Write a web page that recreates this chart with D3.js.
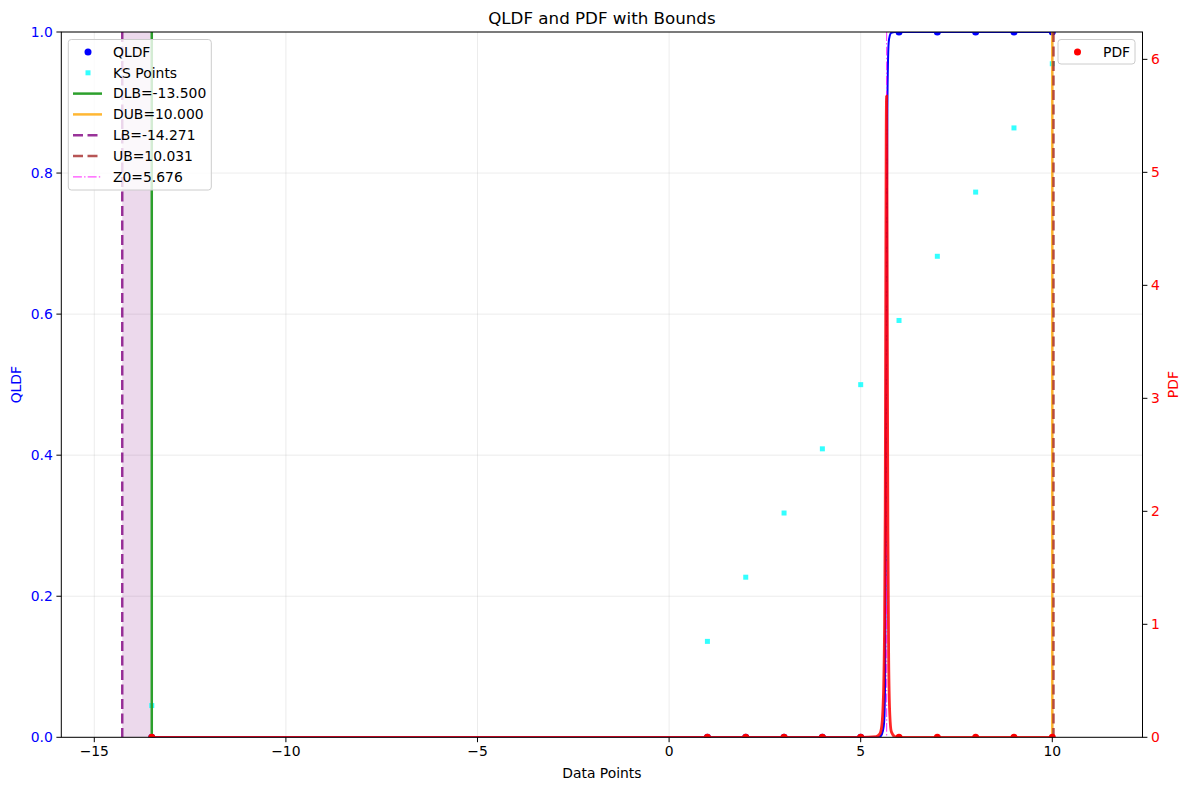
<!DOCTYPE html>
<html>
<head>
<meta charset="utf-8">
<script src="https://cdn.jsdelivr.net/npm/d3@7"></script>
<style>
  html, body { margin: 0; padding: 0; background: #fff; }
  svg { display: block; font-family: "DejaVu Sans", sans-serif; }
</style>
</head>
<body>
<div id="chart"></div>
<script>
// ---- data ----
const dataPoints = [-13.5, 1, 2, 3, 4, 5, 6, 7, 8, 9, 10];
const qldfPoints = [0, 0, 0, 0, 0, 0, 1, 1, 1, 1, 1];
const ksPoints = [0.045, 0.136, 0.227, 0.318, 0.409, 0.5, 0.591, 0.682, 0.773, 0.864, 0.955];
const pdfPoints = [0, 0, 0, 0, 0, 0, 0, 0, 0, 0, 0];

const curveX    = [-13.5, 5.0, 5.4, 5.5, 5.55, 5.6, 5.62, 5.64, 5.655, 5.665, 5.675, 5.685, 5.695, 5.71, 5.73, 5.76, 5.8, 5.9, 6.0, 10.0];
const qldfCurve = [0, 0, 0, 0.001, 0.004, 0.015, 0.03, 0.1, 0.25, 0.45, 0.55, 0.75, 0.88, 0.95, 0.985, 0.995, 0.999, 1, 1, 1];
const pdfCurve  = [0, 0, 0.005, 0.03, 0.1, 0.45, 0.9, 2.0, 4.0, 5.3, 5.675, 5.1, 3.6, 1.8, 0.7, 0.2, 0.05, 0.005, 0, 0];

const bounds = { DLB: -13.5, DUB: 10.0, LB: -14.271, UB: 10.031, Z0: 5.676 };
const xTicks = [-15, -10, -5, 0, 5, 10];
const yLeftTicks = [0, 0.2, 0.4, 0.6, 0.8, 1.0];
const yRightTicks = [0, 1, 2, 3, 4, 5, 6];

// ---- layout ----
const W = 1189, H = 790;
const L = 61.3, R = 1142.5, T = 32, B = 737.3;
const fs = 13.9;

const x = d3.scaleLinear().domain([-15.861, 12.354]).range([L, R]);
const yL = d3.scaleLinear().domain([0, 1]).range([B, T]);
const yR = d3.scaleLinear().domain([0, 6.242]).range([B, T]);

const svg = d3.select("#chart").append("svg").attr("width", W).attr("height", H);
svg.append("defs").append("clipPath").attr("id", "clip")
  .append("rect").attr("x", L).attr("y", T).attr("width", R - L).attr("height", B - T);

// grid
const grid = svg.append("g");
xTicks.forEach(t => grid.append("line").attr("x1", x(t)).attr("x2", x(t)).attr("y1", T).attr("y2", B)
  .attr("stroke", "#b0b0b0").attr("stroke-opacity", 0.3).attr("stroke-width", 0.8));
yLeftTicks.forEach(t => grid.append("line").attr("x1", L).attr("x2", R).attr("y1", yL(t)).attr("y2", yL(t))
  .attr("stroke", "#b0b0b0").attr("stroke-opacity", 0.3).attr("stroke-width", 0.8));

const plot = svg.append("g").attr("clip-path", "url(#clip)");

// shaded region between LB and DLB
plot.append("rect").attr("x", x(bounds.LB)).attr("width", x(bounds.DLB) - x(bounds.LB))
  .attr("y", T).attr("height", B - T).attr("fill", "purple").attr("fill-opacity", 0.15);
plot.append("rect").attr("x", x(bounds.DUB)).attr("width", x(bounds.UB) - x(bounds.DUB))
  .attr("y", T).attr("height", B - T).attr("fill", "purple").attr("fill-opacity", 0.15);

// scatter (ax1)
plot.selectAll(".qd").data(dataPoints).enter().append("circle")
  .attr("cx", d => x(d)).attr("cy", (d, i) => yL(qldfPoints[i])).attr("r", 3.5).attr("fill", "blue");
plot.selectAll(".ks").data(dataPoints).enter().append("rect")
  .attr("x", d => x(d) - 2.5).attr("y", (d, i) => yL(ksPoints[i]) - 2.5).attr("width", 5).attr("height", 5)
  .attr("fill", "cyan").attr("fill-opacity", 0.8);

// QLDF curve
const qIdx = d3.range(curveX.length);
plot.append("path").datum(qIdx)
  .attr("d", d3.line().x(i => x(curveX[i])).y(i => yL(qldfCurve[i])).curve(d3.curveMonotoneX))
  .attr("fill", "none").attr("stroke", "blue").attr("stroke-width", 2);

// vertical lines
function vline(v, color, op, w, dash) {
  plot.append("line").attr("x1", x(v)).attr("x2", x(v)).attr("y1", T).attr("y2", B)
    .attr("stroke", color).attr("stroke-opacity", op).attr("stroke-width", w)
    .attr("stroke-dasharray", dash || null);
}
vline(bounds.DLB, "#2ca02c", 1, 2.5);
vline(bounds.DUB, "orange", 0.8, 2.5);
vline(bounds.LB, "purple", 0.8, 2.5, "10,4.5");
vline(bounds.UB, "brown", 0.8, 2.5, "10,4.5");
vline(bounds.Z0, "magenta", 0.7, 1.2, "8.9,2.2,1.4,2.2");

// PDF curve (ax2)
plot.append("path").datum(qIdx)
  .attr("d", d3.line().x(i => x(curveX[i])).y(i => yR(pdfCurve[i])).curve(d3.curveMonotoneX))
  .attr("fill", "none").attr("stroke", "red").attr("stroke-opacity", 0.85).attr("stroke-width", 2.8);
plot.selectAll(".pd").data(dataPoints).enter().append("circle")
  .attr("cx", d => x(d)).attr("cy", (d, i) => yR(pdfPoints[i])).attr("r", 3.5).attr("fill", "red");

// spines
svg.append("rect").attr("x", L).attr("y", T).attr("width", R - L).attr("height", B - T)
  .attr("fill", "none").attr("stroke", "#000").attr("stroke-width", 1);

// axes
const fmtX = d => d < 0 ? "\u2212" + Math.abs(d) : String(d);
const ax = svg.append("g");
xTicks.forEach(t => {
  ax.append("line").attr("x1", x(t)).attr("x2", x(t)).attr("y1", B).attr("y2", B + 4.9).attr("stroke", "#000");
  ax.append("text").attr("x", x(t)).attr("y", B + 19).attr("text-anchor", "middle")
    .attr("font-size", fs).attr("fill", "#000").text(fmtX(t));
});
yLeftTicks.forEach(t => {
  ax.append("line").attr("x1", L - 4.9).attr("x2", L).attr("y1", yL(t)).attr("y2", yL(t)).attr("stroke", "#000");
  ax.append("text").attr("x", L - 8.5).attr("y", yL(t)).attr("dy", "0.35em").attr("text-anchor", "end")
    .attr("font-size", fs).attr("fill", "blue").text(t.toFixed(1));
});
yRightTicks.forEach(t => {
  ax.append("line").attr("x1", R).attr("x2", R + 4.9).attr("y1", yR(t)).attr("y2", yR(t)).attr("stroke", "#000");
  ax.append("text").attr("x", R + 8.5).attr("y", yR(t)).attr("dy", "0.35em").attr("text-anchor", "start")
    .attr("font-size", fs).attr("fill", "red").text(String(t));
});

svg.append("text").attr("x", (L + R) / 2).attr("y", 778).attr("text-anchor", "middle")
  .attr("font-size", fs).text("Data Points");
svg.append("text").attr("transform", `translate(21,${(T + B) / 2}) rotate(-90)`).attr("text-anchor", "middle")
  .attr("font-size", fs).attr("fill", "blue").text("QLDF");
svg.append("text").attr("transform", `translate(1178,${(T + B) / 2}) rotate(-90)`).attr("text-anchor", "middle")
  .attr("font-size", fs).attr("fill", "red").text("PDF");
svg.append("text").attr("x", (L + R) / 2).attr("y", 24).attr("text-anchor", "middle")
  .attr("font-size", 16.7).text("QLDF and PDF with Bounds");

// legend left
const lg = svg.append("g");
lg.append("rect").attr("x", 68.3).attr("y", 39.5).attr("width", 143).attr("height", 150.5).attr("rx", 3)
  .attr("fill", "#fff").attr("fill-opacity", 0.8).attr("stroke", "#cccccc");
const entries = [
  { label: "QLDF", type: "dot", color: "blue" },
  { label: "KS Points", type: "sq", color: "cyan", op: 0.8 },
  { label: "DLB=-13.500", type: "line", color: "#2ca02c", op: 1 },
  { label: "DUB=10.000", type: "line", color: "orange", op: 0.8 },
  { label: "LB=-14.271", type: "line", color: "purple", op: 0.8, dash: "10,4.5" },
  { label: "UB=10.031", type: "line", color: "brown", op: 0.8, dash: "10,4.5" },
  { label: "Z0=5.676", type: "line", color: "magenta", op: 0.7, dash: "8.9,2.2,1.4,2.2", w: 1.2 }
];
entries.forEach((e, i) => {
  const cy = 52 + i * 20.8;
  if (e.type === "dot") lg.append("circle").attr("cx", 88).attr("cy", cy).attr("r", 3.5).attr("fill", e.color);
  else if (e.type === "sq") lg.append("rect").attr("x", 85.5).attr("y", cy - 2.5).attr("width", 5).attr("height", 5)
    .attr("fill", e.color).attr("fill-opacity", e.op);
  else lg.append("line").attr("x1", 73).attr("x2", 102).attr("y1", cy).attr("y2", cy)
    .attr("stroke", e.color).attr("stroke-opacity", e.op).attr("stroke-width", e.w || 2.5)
    .attr("stroke-dasharray", e.dash || null);
  lg.append("text").attr("x", 113).attr("y", cy).attr("dy", "0.35em").attr("font-size", fs).text(e.label);
});

// legend right
const lr = svg.append("g");
lr.append("rect").attr("x", 1058).attr("y", 39.5).attr("width", 77).attr("height", 24.5).attr("rx", 3)
  .attr("fill", "#fff").attr("fill-opacity", 0.8).attr("stroke", "#cccccc");
lr.append("circle").attr("cx", 1077.5).attr("cy", 52).attr("r", 3.5).attr("fill", "red");
lr.append("text").attr("x", 1103).attr("y", 52).attr("dy", "0.35em").attr("font-size", fs).text("PDF");
</script>
</body>
</html>
